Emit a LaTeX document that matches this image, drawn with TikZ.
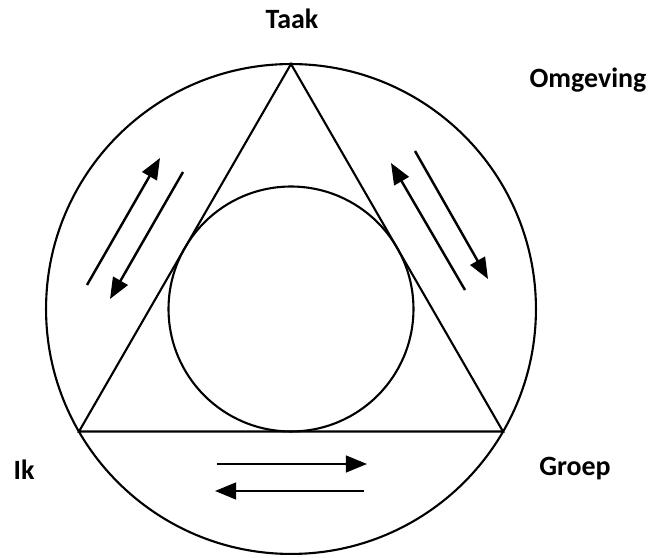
\documentclass[tikz,border=0pt]{standalone}
\usepackage{fontspec}
\setmainfont{Carlito}
\usepackage{tikz}
\usetikzlibrary{calc}
\usetikzlibrary{arrows.meta}

\begin{document}
\begin{tikzpicture}[x = 0.02cm, y = 0.02cm]

\tikzstyle{label_b}=[font=\fontsize{15.9}{19}\selectfont\bfseries, anchor = base, inner sep = 0]
\tikzstyle{shape_line}=[line width = 1.2pt, color = black]
\tikzstyle{arrow_line}=[-{Triangle[length=12pt, width=9.5pt]}, line width = 1.4pt, color = black]

\useasboundingbox (0, 0) rectangle (654, 558);

\coordinate (O) at (291, 249);
\coordinate (A) at (291, 494);
\coordinate (B) at (79, 126.5);
\coordinate (C) at (503, 126.5);
\coordinate (l1s) at (87, 273);
\coordinate (l1e) at (160, 400);
\coordinate (l2s) at (183, 386);
\coordinate (l2e) at (110, 259);
\coordinate (r1s) at (465, 268);
\coordinate (r1e) at (391, 395);
\coordinate (r2s) at (415, 407);
\coordinate (r2e) at (488, 279);
\coordinate (b1s) at (217, 94);
\coordinate (b1e) at (367, 94);
\coordinate (b2s) at (364, 67);
\coordinate (b2e) at (215, 67);

\path
(292, 529) node[label_b](taak) {Taak}
(588, 470) node[label_b](omgeving) {Omgeving}
(24, 78) node[label_b](ik) {Ik}
(575, 82) node[label_b](groep) {Groep};

% circles and triangle
\draw[shape_line] (O) circle (4.9cm);
\draw[shape_line] (O) circle (2.45cm);
\draw[shape_line] (A) -- (B) -- (C) -- cycle;

% arrows
\draw[arrow_line] (l1s) to (l1e);
\draw[arrow_line] (l2s) to (l2e);
\draw[arrow_line] (r1s) to (r1e);
\draw[arrow_line] (r2s) to (r2e);
\draw[arrow_line] (b1s) to (b1e);
\draw[arrow_line] (b2s) to (b2e);

\end{tikzpicture}
\end{document}
